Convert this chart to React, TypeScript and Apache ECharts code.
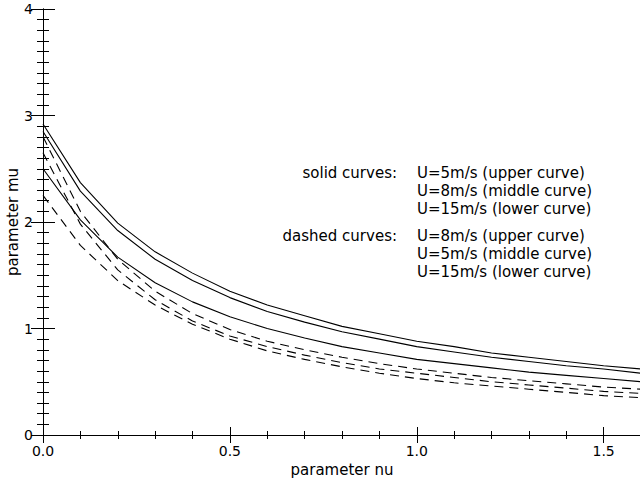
import React, { useEffect, useRef } from "react";
import * as echarts from "echarts";

const nu = [0, 0.1, 0.2, 0.3, 0.4, 0.5, 0.6, 0.7, 0.8, 0.9, 1.0, 1.1, 1.2, 1.3, 1.4, 1.5, 1.6];

const solidU5 = [2.92, 2.37, 1.99, 1.72, 1.52, 1.35, 1.22, 1.12, 1.02, 0.95, 0.88, 0.83, 0.77, 0.73, 0.69, 0.65, 0.62];
const solidU8 = [2.85, 2.29, 1.92, 1.65, 1.45, 1.29, 1.16, 1.06, 0.97, 0.9, 0.83, 0.78, 0.73, 0.69, 0.65, 0.62, 0.58];
const solidU15 = [2.5, 2.02, 1.67, 1.43, 1.25, 1.11, 1.0, 0.91, 0.83, 0.77, 0.71, 0.67, 0.63, 0.59, 0.56, 0.53, 0.5];

const dashedU8 = [2.8, 2.1, 1.65, 1.35, 1.14, 0.99, 0.88, 0.8, 0.73, 0.67, 0.62, 0.58, 0.54, 0.51, 0.48, 0.45, 0.43];
const dashedU5 = [2.65, 1.98, 1.55, 1.27, 1.07, 0.93, 0.83, 0.75, 0.68, 0.62, 0.58, 0.54, 0.5, 0.47, 0.44, 0.41, 0.39];
const dashedU15 = [2.25, 1.78, 1.45, 1.22, 1.04, 0.9, 0.79, 0.71, 0.64, 0.58, 0.53, 0.49, 0.46, 0.43, 0.4, 0.37, 0.35];

const legendHeads = ["solid curves:", "dashed curves:"];
const legendSolid = ["U=5m/s (upper curve)", "U=8m/s (middle curve)", "U=15m/s (lower curve)"];
const legendDashed = ["U=8m/s (upper curve)", "U=5m/s (middle curve)", "U=15m/s (lower curve)"];

const FONT = "DejaVu Sans";

export default function App() {
  const ref = useRef<HTMLDivElement>(null);
  useEffect(() => {
    if (!ref.current) return;
    const chart = echarts.init(ref.current, null, { renderer: "svg" });
    const mk = (ys: number[], dashed: boolean, name: string) => ({
      name,
      type: "line",
      data: nu.map((x, i) => [x, ys[i]]),
      showSymbol: false,
      symbol: "none",
      lineStyle: { color: "#000", width: 1.1, type: dashed ? [9, 6] : "solid" },
      silent: true,
    });
    const txt = (s: string, x: number, y: number, align: string) => ({
      type: "text",
      x,
      y,
      style: { text: s, fill: "#000", font: `15px '${FONT}'`, textAlign: align, textVerticalAlign: "middle" },
    });
    const headX = 397;
    const itemX = 417;
    const rows1 = [173, 191, 209];
    const rows2 = [236, 254, 272];
    const graphics: any[] = [];
    graphics.push(txt(legendHeads[0], headX, rows1[0], "right"));
    graphics.push(txt(legendHeads[1], headX, rows2[0], "right"));
    legendSolid.forEach((s, i) => graphics.push(txt(s, itemX, rows1[i], "left")));
    legendDashed.forEach((s, i) => graphics.push(txt(s, itemX, rows2[i], "left")));

    const axisCommon = {
      axisLine: { show: true, lineStyle: { color: "#000", width: 1 } },
      splitLine: { show: false },
    };
    chart.setOption({
      animation: false,
      backgroundColor: "#fff",
      grid: { left: 43, top: 9, width: 598, height: 426, containLabel: false, outerBoundsMode: "none" },
      xAxis: [
        {
          type: "value",
          min: 0,
          max: 1.6,
          interval: 0.5,
          position: "bottom",
          name: "parameter nu",
          nameLocation: "middle",
          nameGap: 27,
          nameMoveOverlap: false,
          nameTextStyle: { color: "#000", fontSize: 15, fontFamily: FONT },
          axisTick: { show: true, inside: true, length: 8, lineStyle: { color: "#000" } },
          minorTick: { show: true, splitNumber: 5, length: 4, lineStyle: { color: "#000" } },
          axisLabel: {
            color: "#000",
            fontSize: 14,
            fontFamily: FONT,
            margin: 9,
            showMaxLabel: false,
            formatter: (v: number) => (Math.abs(v * 2 - Math.round(v * 2)) < 1e-6 ? v.toFixed(1) : ""),
          },
          ...axisCommon,
        },
        {
          type: "value",
          min: 0,
          max: 1.6,
          interval: 0.5,
          position: "top",
          axisTick: { show: true, inside: true, length: 8, lineStyle: { color: "#000" } },
          minorTick: { show: true, splitNumber: 5, length: 4, lineStyle: { color: "#000" } },
          axisLabel: { show: false },
          ...axisCommon,
        },
      ],
      yAxis: [
        {
          type: "value",
          min: 0,
          max: 4,
          interval: 1,
          position: "left",
          name: "parameter mu",
          nameLocation: "middle",
          nameGap: 23,
          nameMoveOverlap: false,
          nameRotate: 90,
          nameTextStyle: { color: "#000", fontSize: 15, fontFamily: FONT },
          axisTick: { show: true, inside: true, length: 12, lineStyle: { color: "#000" } },
          minorTick: { show: true, splitNumber: 10, length: 6, lineStyle: { color: "#000" } },
          axisLabel: { color: "#000", fontSize: 14, fontFamily: FONT, margin: 10, formatter: (v: number) => String(v) },
          ...axisCommon,
        },
        {
          type: "value",
          min: 0,
          max: 4,
          interval: 1,
          position: "right",
          axisTick: { show: true, inside: true, length: 12, lineStyle: { color: "#000" } },
          minorTick: { show: true, splitNumber: 10, length: 6, lineStyle: { color: "#000" } },
          axisLabel: { show: false },
          ...axisCommon,
        },
      ],
      series: [
        mk(solidU5, false, "solid U=5"),
        mk(solidU8, false, "solid U=8"),
        mk(solidU15, false, "solid U=15"),
        mk(dashedU8, true, "dashed U=8"),
        mk(dashedU5, true, "dashed U=5"),
        mk(dashedU15, true, "dashed U=15"),
      ],
      graphic: graphics,
    });
    return () => chart.dispose();
  }, []);
  return (
    <div
      ref={ref}
      style={{ position: "fixed", left: 0, top: 0, width: 640, height: 481, background: "#fff" }}
    />
  );
}
